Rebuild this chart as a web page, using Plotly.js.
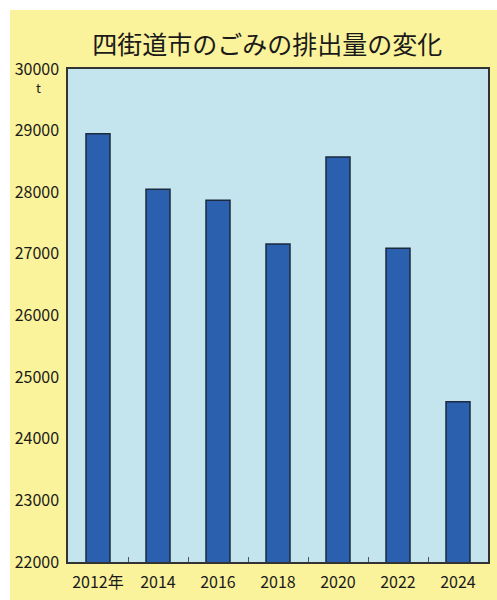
<!DOCTYPE html>
<html><head><meta charset="utf-8">
<script src="https://cdn.plot.ly/plotly-3.0.1.min.js"></script>
<style>
html,body{margin:0;padding:0;background:#ffffff;}
#chart{position:absolute;left:10px;top:10px;width:487px;height:590px;}
</style></head>
<body><div id="chart"></div>
<script>
const years = ["2012年","2014","2016","2018","2020","2022","2024"];
const waste = [28950, 28050, 27870, 27160, 28570, 27090, 24600];
const yTicks = [22000,23000,24000,25000,26000,27000,28000,29000,30000];

const font = "'Noto Sans CJK JP', 'Noto Sans', sans-serif";
Plotly.newPlot('chart', [{
  type: 'bar',
  x: years,
  y: waste,
  marker: {color: '#2A60AD', line: {color: '#1B2A3E', width: 1.5}},
  hoverinfo: 'x+y'
}], {
  width: 487, height: 590,
  paper_bgcolor: '#FAF39B',
  plot_bgcolor: '#C4E5EE',
  margin: {l: 58, r: 9, t: 59, b: 38},
  bargap: 0.6,
  showlegend: false,
  title: {text: '四街道市のごみの排出量の変化', font: {family: font, size: 25, color: '#1a1a1a'},
          x: 0.528, xref: 'container', xanchor: 'center', y: 0.94, yref: 'container', yanchor: 'middle'},
  xaxis: {type: 'category', showline: true, linecolor: '#333', linewidth: 1.5, mirror: true,
          ticks: 'inside', tickson: 'boundaries', ticklen: 5, tickcolor: '#555', tickwidth: 1,
          tickangle: 0, automargin: false,
          showgrid: false, tickfont: {family: font, size: 16, color: '#1a1a1a'}, ticklabelstandoff: 5},
  yaxis: {range: [22000, 30000], tickvals: yTicks, ticktext: yTicks.map(String),
          showline: true, linecolor: '#333', linewidth: 1.5, mirror: true,
          ticks: '', showgrid: false, zeroline: false, automargin: false,
          tickfont: {family: font, size: 16, color: '#1a1a1a'}, ticklabelstandoff: 4},
  annotations: [{text: 't', xref: 'paper', yref: 'paper', x: -0.0714, y: 0.962,
                 showarrow: false, xanchor: 'center', yanchor: 'middle',
                 font: {family: font, size: 13, color: '#1a1a1a'}}]
}, {displayModeBar: false});
</script></body></html>
